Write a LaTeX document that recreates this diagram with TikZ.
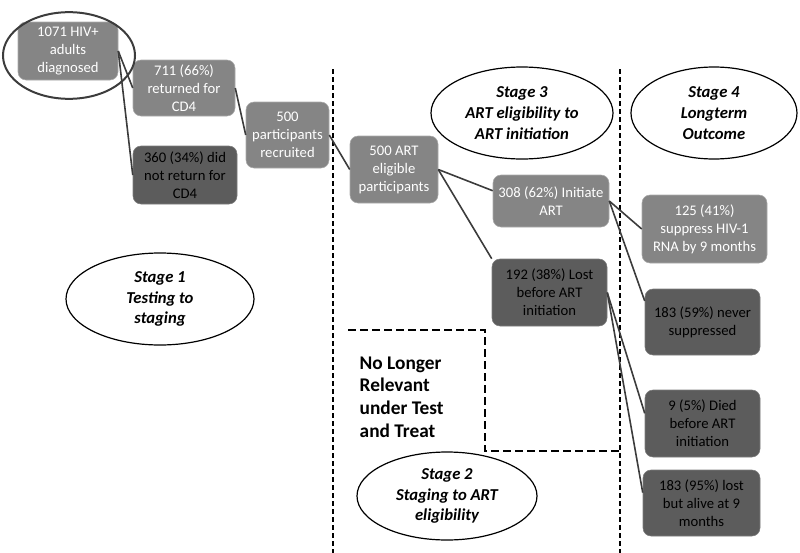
\documentclass[tikz,border=0pt]{standalone}
\usepackage{fontspec}
\setmainfont{Carlito}
\usepackage{tikz}
\usetikzlibrary{shapes.geometric}
\definecolor{mlight}{RGB}{133,133,133}
\definecolor{mdark}{RGB}{92,92,92}
\definecolor{mline}{RGB}{60,60,60}
\tikzset{
  lbox/.style={rectangle, rounded corners=6pt, fill=mlight, draw=mlight!70!white,
    text=white, align=center, inner sep=1pt, font=\fontsize{11}{13.5}\selectfont},
  dbox/.style={lbox, fill=mdark, draw=mdark!80!white, text=black},
  boxsize/.style 2 args={minimum width=#1pt, minimum height=#2pt},
  stage/.style={ellipse, draw, line width=0.9pt, fill=white, align=center, inner sep=0pt,
    font=\bfseries\itshape\fontsize{12.5}{15.5}\selectfont},
  link/.style={mline, line width=1.2pt},
  split/.style={line width=2.2pt, dash pattern=on 4pt off 2pt},
}

\begin{document}
\begin{tikzpicture}[x=0.75pt, y=-0.75pt]
      \useasboundingbox (0, 0) rectangle (800, 553);

      \draw [split] (333, 69) -- (333, 553);
      \draw [split] (620, 69) -- (620, 553);
      \draw [split, dash pattern=on 6pt off 3pt] (348, 330) -- (485, 330) -- (485, 451) -- (620, 451);

      \node [lbox, boxsize={75}{43.5}] (diag) at (68, 51) {1071 HIV+\\adults\\diagnosed};
      \node [lbox, boxsize={76.5}{42}] (ret) at (184, 88) {711 (66\%)\\returned for\\CD4};
      \node [dbox, boxsize={78}{43.5}] (noret) at (185, 175) {360 (34\%) did\\not return for\\CD4};
      \node [lbox, boxsize={62.25}{49.5}] (recr) at (287.5, 135) {500\\participants\\recruited};
      \node [lbox, boxsize={66}{50.25}] (elig) at (394, 169.5) {500 ART\\eligible\\participants};
      \node [lbox, boxsize={87}{39}] (init) at (551, 201) {308 (62\%) Initiate\\ART};
      \node [dbox, boxsize={86.25}{50.25}] (lost) at (549.5, 292.5) {192 (38\%) Lost\\before ART\\initiation};
      \node [lbox, boxsize={93.75}{51}] (supp) at (704.5, 229) {125 (41\%)\\suppress HIV-1\\RNA by 9 months};
      \node [dbox, boxsize={86.25}{49.5}] (never) at (702.5, 322) {183 (59\%) never\\suppressed};
      \node [dbox, boxsize={86.25}{50.25}] (died) at (702.5, 423.5) {9 (5\%) Died\\before ART\\initiation};
      \node [dbox, boxsize={87.75}{49.5}] (alive) at (701.5, 503) {183 (95\%) lost\\but alive at 9\\months};

      \draw [link] (diag.east) -- (ret.west);
      \draw [link] (diag.east) -- (noret.west);
      \draw [link] (ret.east) -- (recr.west);
      \draw [link] (recr.east) -- (elig.west);
      \draw [link] (elig.east) -- (init.170);
      \draw [link] (elig.east) -- (lost.north west);
      \draw [link] (init.east) -- (supp.west);
      \draw [link] (init.east) -- (never.160);
      \draw [link] (lost.east) -- (died.170);
      \draw [link] (lost.east) -- (alive.170);

      \node [ellipse, draw=mline, line width=1.5pt, minimum width=99pt, minimum height=65pt] (ring) at (69, 55.5) {};

      \node [stage, minimum width=141pt, minimum height=69pt] (st1) at (160, 299) {Stage 1\\Testing to\\staging};
      \node [stage, minimum width=135pt, minimum height=66pt] (st2) at (447, 496) {Stage 2\\Staging to ART\\eligibility};
      \node [stage, minimum width=136.5pt, minimum height=69pt] (st3) at (522, 113) {Stage 3\\ART eligibility to\\ART initiation};
      \node [stage, minimum width=124.5pt, minimum height=69pt] (st4) at (714, 113) {Stage 4\\Longterm\\Outcome};

      \node [anchor=west, align=left, font=\bfseries\fontsize{14.5}{17}\selectfont] (nolong) at (355, 397) {No Longer\\Relevant\\under Test\\and Treat};
    \end{tikzpicture}
\end{document}
